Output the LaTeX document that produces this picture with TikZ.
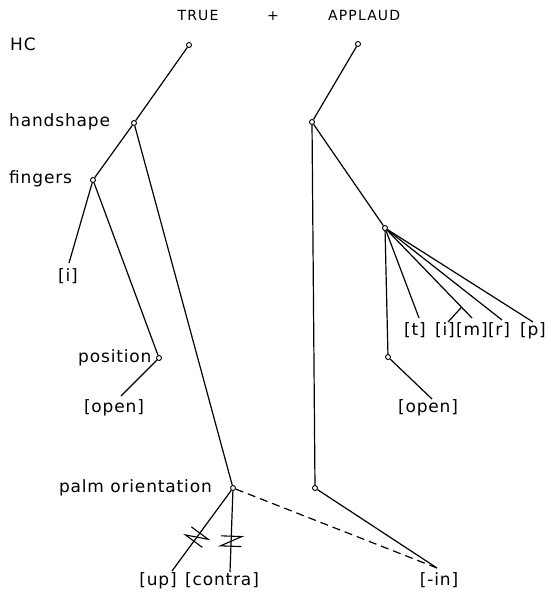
\documentclass[tikz,border=0pt]{standalone}
\usepackage{fontspec}
\setmainfont{DejaVu Sans}
\newfontfamily\lblfont[LetterSpace=5]{DejaVu Sans}
\newfontfamily\headfont[LetterSpace=8]{DejaVu Sans}
\usetikzlibrary{calc}

\begin{document}
\begin{tikzpicture}[x=1pt,y=-1pt,
  tiernode/.style={circle,draw,fill=white,inner sep=0pt,minimum size=5pt,line width=0.9pt},
  lbl/.style={inner sep=0pt,font=\lblfont\fontsize{17}{20}\selectfont},
  headtxt/.style={inner sep=0pt,font=\headfont\fontsize{14}{16}\selectfont},
  assoc/.style={line width=1.2pt},
  delink/.pic={\draw[line width=1.1pt] (-5pt,-10.5pt) -- (-5pt,10.5pt) -- (5pt,-10.5pt) -- (5pt,10.5pt);}
]
\useasboundingbox (0,0) rectangle (550,601);

% headings
\node[headtxt,anchor=base] (true) at (198,21) {TRUE};
\node[headtxt,anchor=base] (plus) at (273,21) {+};
\node[headtxt,anchor=base west] (applaud) at (328,21) {APPLAUD};

% tier names
\node[lbl,anchor=base west] (nHC) at (10,51) {HC};
\node[lbl,anchor=base west] (nhs) at (9,127) {handshape};
\node[lbl,anchor=base west] (nfi) at (9,184) {fingers};
\node[lbl,anchor=base west] (npos) at (78,362) {position};
\node[lbl,anchor=base east] (npalm) at (212,492) {palm orientation};

% feature values
\node[lbl,anchor=base] (vi) at (68,281) {[i]};
\node[lbl,anchor=base] (vopL) at (114,412) {[open]};
\node[lbl,anchor=base] (vopR) at (428,412) {[open]};
\node[lbl,anchor=base] (vup) at (158,585) {[up]};
\node[lbl,anchor=base] (vcon) at (222,585) {[contra]};
\node[lbl,anchor=base] (vin) at (439,585) {[-in]};
\node[lbl,anchor=base] (vt) at (415,335) {[t]};
\node[lbl,anchor=base] (vi2) at (445,335) {[i]};
\node[lbl,anchor=base] (vm) at (472,335) {[m]};
\node[lbl,anchor=base] (vr) at (499,335) {[r]};
\node[lbl,anchor=base] (vp) at (533,335) {[p]};

% TRUE tree
\node[tiernode] (lHC) at (189,45) {};
\node[tiernode] (lhs) at (134,123) {};
\node[tiernode] (lfi) at (93,180) {};
\node[tiernode] (lpos) at (159,358) {};
\node[tiernode] (lpalm) at (233,488) {};

% APPLAUD tree
\node[tiernode] (rHC) at (358,44) {};
\node[tiernode] (rhs) at (312,122) {};
\node[tiernode] (rfi) at (385,228) {};
\node[tiernode] (rpos) at (388,357) {};
\node[tiernode] (rpalm) at (315,488) {};

% free ends of the association lines
\coordinate (ei) at (69,263);
\coordinate (eopL) at (121,396);
\coordinate (eopR) at (432,399);
\coordinate (eup) at (172,571);
\coordinate (econ) at (230,572);
\coordinate (ein) at (437,568);
\coordinate (et) at (419,318);
\coordinate (em) at (472,318);
\coordinate (er) at (502,320);
\coordinate (ep) at (533,322);
\coordinate (ebr) at ($(rfi)!0.88!(em)$);
\coordinate (ei2) at (448,322);

% TRUE associations
\draw[assoc] (lHC) -- (lhs);
\draw[assoc] (lhs) -- (lfi);
\draw[assoc] (lhs) -- (lpalm);
\draw[assoc] (lfi) -- (ei);
\draw[assoc] (lfi) -- (lpos);
\draw[assoc] (lpos) -- (eopL);
\draw[assoc] (lpalm) -- (eup) pic[pos=0.58,sloped]{delink};
\draw[assoc] (lpalm) -- (econ) pic[pos=0.62,sloped]{delink};
\draw[assoc,dash pattern=on 8pt off 5pt] (lpalm) -- (ein);

% APPLAUD associations
\draw[assoc] (rHC) -- (rhs);
\draw[assoc] (rhs) -- (rfi);
\draw[assoc] (rhs) -- (rpalm);
\draw[assoc] (rfi) -- (rpos);
\draw[assoc] (rpos) -- (eopR);
\draw[assoc] (rpalm) -- (ein);
\draw[assoc] (rfi) -- (et);
\draw[assoc] (rfi) -- (em);
\draw[assoc] (ebr) -- (ei2);
\draw[assoc] (rfi) -- (er);
\draw[assoc] (rfi) -- (ep);
\end{tikzpicture}
\end{document}
